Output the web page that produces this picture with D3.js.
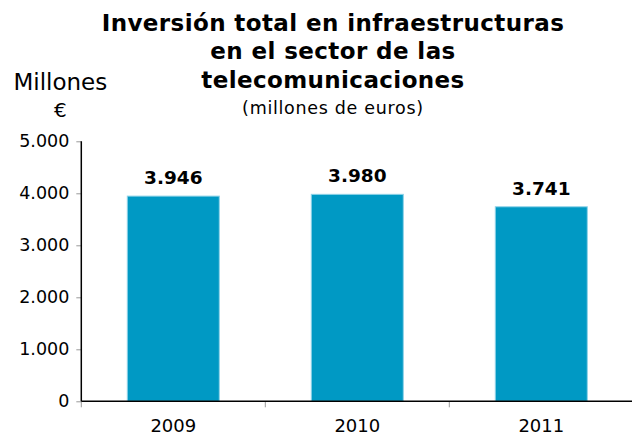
<!DOCTYPE html>
<html>
<head>
<meta charset="utf-8">
<script src="https://cdn.jsdelivr.net/npm/d3@7"></script>
<style>
  body { margin: 0; background: #fff; }
  svg { display: block; }
  svg text { font-family: "DejaVu Sans", Verdana, sans-serif; }
</style>
</head>
<body>
<div class="chart"></div>
<script>
// chart data
const years = ["2009", "2010", "2011"];
const investment = [3946, 3980, 3741];
const valueLabels = ["3.946", "3.980", "3.741"];
const yTicks = [0, 1000, 2000, 3000, 4000, 5000];
const yTickLabels = ["0", "1.000", "2.000", "3.000", "4.000", "5.000"];
const titleLines = ["Inversión total en infraestructuras", "en el sector de las", "telecomunicaciones"];

const widthOfSvg = 632;
const heightOfSvg = 438;
const plotLeft = 81.3, plotRight = 633.3, plotTop = 141.3, plotBottom = 401.3;

const svg = d3.select(".chart")
  .append("svg")
  .attr("width", widthOfSvg)
  .attr("height", heightOfSvg);

const xScale = d3.scaleBand()
  .domain(years)
  .range([plotLeft, plotRight])
  .paddingInner(0.5)
  .paddingOuter(0.25);

const yScale = d3.scaleLinear()
  .domain([0, 5000])
  .range([plotBottom, plotTop]);

// title
svg.append("text")
  .attr("text-anchor", "middle")
  .style("font-weight", "bold")
  .style("font-size", "23px")
  .style("letter-spacing", "0.4px")
  .selectAll("tspan")
  .data(titleLines)
  .enter()
  .append("tspan")
  .attr("x", 333)
  .attr("y", (d, i) => 30.7 + i * 28.4)
  .text(d => d);

svg.append("text")
  .attr("x", 333)
  .attr("y", 114)
  .attr("text-anchor", "middle")
  .style("font-size", "17.5px")
  .style("letter-spacing", "0.7px")
  .text("(millones de euros)");

// y unit
svg.append("text")
  .attr("x", 60.3)
  .attr("y", 90)
  .attr("text-anchor", "middle")
  .style("font-size", "23px")
  .text("Millones");

svg.append("text")
  .attr("x", 60.3)
  .attr("y", 117)
  .attr("text-anchor", "middle")
  .style("font-size", "20px")
  .text("€");

// bars
svg.selectAll("rect")
  .data(investment)
  .enter()
  .append("rect")
  .attr("x", (d, i) => xScale(years[i]))
  .attr("y", d => yScale(d))
  .attr("width", xScale.bandwidth())
  .attr("height", d => plotBottom - yScale(d))
  .attr("fill", "#0099c4")
  .attr("stroke", "#8fd3e8")
  .attr("stroke-width", 1);

svg.selectAll(".val")
  .data(investment)
  .enter()
  .append("text")
  .attr("class", "val")
  .attr("x", (d, i) => xScale(years[i]) + xScale.bandwidth() / 2)
  .attr("y", d => yScale(d) - 12)
  .attr("text-anchor", "middle")
  .style("font-weight", "bold")
  .style("font-size", "18.5px")
  .text((d, i) => valueLabels[i]);

// y axis
const yAxis = d3.axisLeft(yScale)
  .tickValues(yTicks)
  .tickFormat((d, i) => yTickLabels[i])
  .tickSize(5)
  .tickPadding(7);

const gy = svg.append("g")
  .attr("transform", "translate(" + plotLeft + ",0)")
  .call(yAxis);
gy.select(".domain").remove();
gy.selectAll(".tick line").attr("stroke", "#999");
gy.selectAll(".tick text").style("font-size", "17.5px").attr("fill", "#000");
gy.append("line")
  .attr("x1", 0).attr("x2", 0)
  .attr("y1", plotTop).attr("y2", plotBottom)
  .attr("stroke", "#000").attr("stroke-width", 1.5);

// x axis
const boundaries = [0, 1, 2, 3].map(i => plotLeft + i * xScale.step());
svg.selectAll(".xtick")
  .data(boundaries)
  .enter()
  .append("line")
  .attr("class", "xtick")
  .attr("x1", d => d).attr("x2", d => d)
  .attr("y1", plotBottom).attr("y2", plotBottom + 6)
  .attr("stroke", "#999");

const xAxis = d3.axisBottom(xScale).tickSize(0).tickPadding(18);
const gx = svg.append("g")
  .attr("transform", "translate(0," + plotBottom + ")")
  .call(xAxis);
gx.select(".domain").remove();
gx.selectAll(".tick text").style("font-size", "18px").attr("fill", "#000");
gx.append("line")
  .attr("x1", plotLeft).attr("x2", plotRight)
  .attr("stroke", "#000").attr("stroke-width", 1.5);
</script>
</body>
</html>
